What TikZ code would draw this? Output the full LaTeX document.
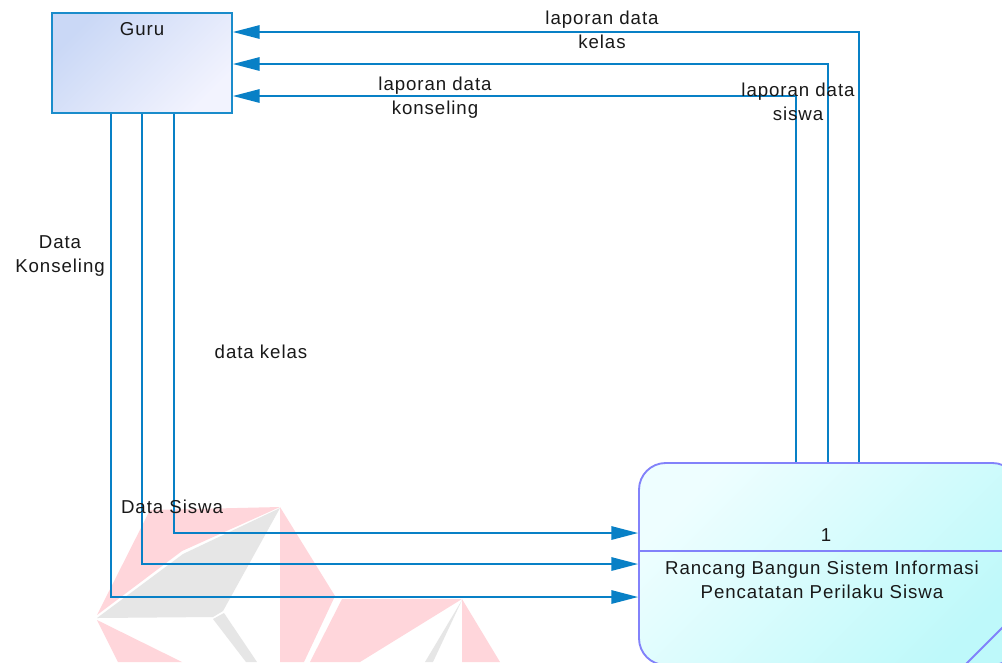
\documentclass[tikz,border=0pt]{standalone}
\usepackage{fontspec}
\setmainfont{Liberation Sans}[LetterSpace=5]
\usetikzlibrary{arrows.meta}

\definecolor{flowblue}{RGB}{8,128,198}
\definecolor{guruborder}{RGB}{26,140,203}
\definecolor{procborder}{RGB}{130,130,250}
\definecolor{guruA}{RGB}{202,216,246}
\definecolor{guruB}{RGB}{242,243,254}
\definecolor{procA}{RGB}{238,254,255}
\definecolor{procB}{RGB}{190,249,250}
\definecolor{wmpink}{RGB}{255,214,219}
\definecolor{wmgray}{RGB}{230,230,230}

\begin{document}
\begin{tikzpicture}[x=0.75pt,y=-0.75pt,
  txt/.style={font=\fontsize{14}{18}\selectfont, align=center, inner sep=0pt, text=black!90},
  flow/.style={draw=flowblue, line width=1.4pt, -{Triangle[length=20pt,width=10pt]}},
  gurubox/.style={draw=guruborder, line width=1.4pt, inner sep=0pt,
    minimum width=135pt, minimum height=75pt,
    top color=guruA, bottom color=guruB, shading angle=45},
  procbox/.style={draw=procborder, line width=1.4pt, inner sep=0pt, rounded corners=20pt,
    minimum width=285pt, minimum height=151.5pt,
    top color=procA, bottom color=procB, shading angle=45},
  wmp/.style={fill=wmpink},
  wmg/.style={fill=wmgray}]

\useasboundingbox (0,0) rectangle (1002,662);
\fill[white] (0,0) rectangle (1002,662);
\clip (0,0) rectangle (1002,662);

% faint logo in the background
\fill[wmp] (97,615) -- (150,510) -- (280,507) -- (182,551) -- cycle;
\fill[wmg] (97,618) -- (183,554) -- (280,508) -- (223,611) -- (213,617) -- cycle;
\fill[wmg] (213,619) -- (224,613) -- (257,662) -- (246,662) -- cycle;
\fill[wmp] (97,620) -- (182,662) -- (118,662) -- cycle;
\fill[wmp] (280,507) -- (335,596) -- (304,662) -- (280,662) -- cycle;
\fill[wmp] (342,599) -- (462,599) -- (360,662) -- (310,662) -- cycle;
\fill[wmg] (462,600) -- (433,662) -- (425,662) -- cycle;
\fill[wmp] (462,599) -- (500,662) -- (462,662) -- cycle;

% external entity
\node[gurubox, label={[txt, anchor=north, yshift=-7.5pt]north:Guru}] (guru) at (142,63) {};

% process
\node[procbox] (proc) at (829,564) {};
\coordinate (divy) at (0,551);
\draw[procborder, line width=1pt] (proc.west |- divy) -- (proc.east |- divy);
\draw[procborder, line width=1.4pt] (958,672) -- (1012,618);
\node[txt] (pnum) at (826,535) {1};
\node[txt] (pname) at (822,580) {Rancang Bangun Sistem Informasi\\Pencatatan Perilaku Siswa};

% turning points of the data flows
\coordinate (outKelas) at (859,32);
\coordinate (outSiswa) at (828,64);
\coordinate (outKons)  at (796,96);
\coordinate (inKelas)  at (174,533);
\coordinate (inSiswa)  at (142,564);
\coordinate (inKons)   at (111,597);

% flows from the process to Guru
\draw[flow] (proc.north -| outKelas) |- (guru.east |- outKelas);
\draw[flow] (proc.north -| outSiswa) |- (guru.east |- outSiswa);
\draw[flow] (proc.north -| outKons)  |- (guru.east |- outKons);

% flows from Guru to the process
\draw[flow] (guru.south -| inKelas) |- (proc.west |- inKelas);
\draw[flow] (guru.south -| inSiswa) |- (proc.west |- inSiswa);
\draw[flow] (guru.south -| inKons)  |- (proc.west |- inKons);

% flow labels
\node[txt] (lkelas) at (602,30)  {laporan data\\kelas};
\node[txt] (lkons)  at (435,98)  {laporan data\\konseling};
\node[txt] (lsiswa) at (798,102) {laporan data\\siswa};
\node[txt] (dkons)  at (60,256)  {Data\\Konseling};
\node[txt] (dkelas) at (261,352) {data kelas};
\node[txt] (dsiswa) at (172,507) {Data Siswa};
\end{tikzpicture}
\end{document}
